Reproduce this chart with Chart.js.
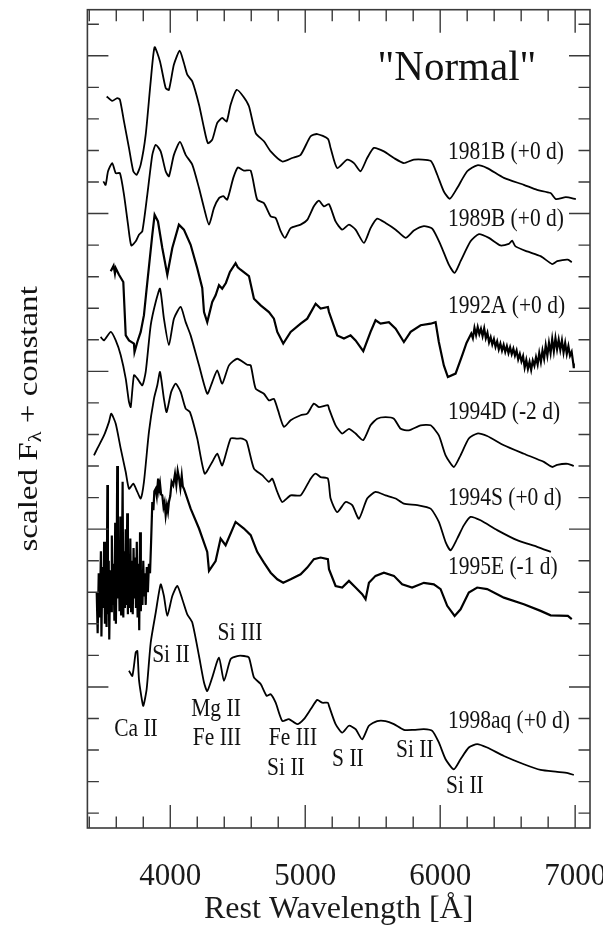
<!DOCTYPE html>
<html>
<head>
<meta charset="utf-8">
<script src="https://cdn.jsdelivr.net/npm/chart.js@4.4.1/dist/chart.umd.min.js"></script>
<style>
html,body{margin:0;padding:0;background:#ffffff;}
#wrap{width:603px;height:930px;position:relative;}
</style>
</head>
<body>
<div id="wrap"><canvas id="c" width="603" height="930"></canvas></div>
<script>
// ---------------- data (rest wavelength [Å], scaled flux + constant) ----------------
const wl_1981B = [3529,3570,3607,3627,3657,3694,3726,3751,3781,3818,3855,3884,3924,3966,3990,4027,4070,4101,4126,4163,4213,4250,4279,4311,4348,4385,4418,4447,4492,4541,4583,4633,4694,4744,4830,4904,4966,5040,5089,5168,5188,5237,5311,5361,5410,5459,5509,5583,5657,5731,5805,5929,5978,6027,6072,6126,6200,6274,6348,6472,6620,6718,6818,6857,6931,7005];
const fx_1981B = [23.71,23.57,23.66,23.61,22.92,22.08,21.34,21.23,21.55,22.50,24.19,25.27,24.82,23.98,23.92,24.72,25.16,24.77,24.40,24.19,23.45,22.71,22.23,22.34,22.87,23.03,22.92,23.45,23.92,23.71,23.40,22.55,22.29,21.97,21.65,21.76,21.86,22.45,22.52,22.37,22.08,21.44,21.71,21.60,21.34,21.76,22.08,21.97,21.76,21.60,21.71,21.67,21.23,20.70,20.47,20.81,21.34,21.53,21.44,21.13,20.91,20.75,20.65,20.46,20.52,20.46];

const wl_1989B = [3504,3521,3539,3570,3596,3627,3657,3687,3711,3744,3768,3793,3830,3867,3892,3929,3966,3990,4027,4072,4114,4163,4213,4250,4287,4324,4361,4393,4422,4467,4501,4546,4596,4644,4694,4744,4781,4818,4850,4892,4966,5015,5064,5101,5138,5176,5225,5274,5324,5373,5435,5484,5533,5595,5670,5744,5805,5879,5941,6003,6064,6107,6151,6225,6287,6361,6447,6509,6533,6558,6644,6744,6830,6867,6946,6975];
const fx_1989B = [21.02,20.91,21.34,21.60,21.28,21.28,20.60,19.65,18.99,19.12,19.33,19.44,20.60,21.86,22.18,21.97,21.34,21.18,21.86,22.27,21.86,21.55,20.81,20.18,19.65,20.18,20.49,20.55,20.44,21.13,21.46,21.36,21.36,20.44,20.33,19.91,19.86,19.44,19.23,19.54,19.65,19.80,20.23,20.41,20.23,20.30,19.75,19.49,19.65,19.49,19.07,19.54,19.84,19.70,19.49,19.23,19.46,19.60,19.52,19.01,18.38,18.12,18.49,19.12,19.35,19.23,18.99,19.04,19.14,18.96,18.80,18.65,18.40,18.49,18.54,18.46];

const pts_1992A = [
 [3559,18.17],[3580,18.35],[3590,18.10],[3596,18.27],[3620,18.06],[3652,17.83],[3670,16.14],[3694,15.98],[3731,15.88],[3735,15.61],
 [3756,15.93],[3781,16.25],[3805,16.78],[3825,17.62],[3867,19.33],[3884,19.96],[3909,19.75],[3941,18.91],[3978,18.06],[4015,18.91],
 [4064,19.65],[4101,19.49],[4151,19.01],[4200,18.27],[4237,17.64],[4250,16.88],[4274,16.56],[4311,17.20],[4336,17.41],[4361,17.73],
 [4385,17.62],[4412,17.80],[4442,18.15],[4484,18.43],[4500,18.30],[4521,18.22],[4583,18.02],[4620,17.30],[4670,17.09],[4731,16.88],
 [4768,16.67],[4793,16.25],[4837,15.88],[4892,16.25],[4966,16.51],[5015,16.67],[5077,17.14],[5114,16.99],[5168,17.04],[5176,16.88],
 [5237,16.14],[5287,16.04],[5336,16.14],[5373,15.98],[5430,15.64],[5484,16.25],[5521,16.62],[5558,16.51],[5620,16.56],[5670,16.35],
 [5731,15.93],[5781,16.25],[5855,16.46],[5929,16.51],[5966,16.56],[5990,15.93],[6027,15.19],[6057,14.82],[6114,14.93],[6163,15.51],
 [6195,15.90],[6230,16.20],[6242,16.05],[6254,16.38],[6266,16.15],[6278,16.40],[6290,16.18],[6302,16.35],[6314,16.12],[6326,16.36],
 [6338,16.05],[6350,16.22],[6362,15.92],[6374,16.08],[6386,15.85],[6398,16.02],[6410,15.78],[6422,15.95],[6434,15.70],[6446,15.88],
 [6458,15.66],[6470,15.84],[6482,15.62],[6494,15.80],[6506,15.58],[6518,15.76],[6530,15.55],[6542,15.72],[6554,15.50],[6566,15.66],
 [6578,15.38],[6590,15.55],[6602,15.32],[6614,15.48],[6626,15.12],[6638,15.36],[6650,15.08],[6662,15.30],[6674,15.05],[6686,15.34],
 [6698,15.18],[6710,15.45],[6722,15.22],[6734,15.58],[6746,15.30],[6758,15.66],[6770,15.40],[6782,15.82],[6794,15.50],[6806,15.90],
 [6818,15.58],[6830,16.02],[6842,15.64],[6854,16.05],[6866,15.70],[6878,16.00],[6890,15.68],[6902,15.98],[6914,15.60],[6926,15.90],
 [6938,15.55],[6950,15.80],[6962,15.50],[6974,15.62],[6986,15.25],[6990,15.10]
];

const wl_1994D = [3484,3509,3559,3596,3633,3670,3694,3707,3731,3756,3793,3818,3855,3892,3924,3953,3990,4027,4077,4114,4151,4213,4274,4311,4348,4385,4435,4496,4570,4596,4633,4694,4731,4768,4798,4842,4892,4966,5015,5064,5101,5168,5176,5225,5274,5324,5373,5430,5484,5533,5595,5657,5707,5768,5855,5929,5990,6040,6101,6151,6212,6274,6348,6472,6620,6768,6830,6867,6946,6990];
const fx_1994D = [16.09,15.98,16.25,15.98,15.51,14.77,14.03,13.87,14.88,14.77,14.56,14.98,16.46,17.20,17.62,16.67,15.83,16.67,17.04,16.56,16.14,15.19,14.29,14.66,15.03,14.61,15.19,15.40,15.21,15.19,14.45,14.29,14.08,14.13,13.77,13.24,13.45,13.61,13.66,13.98,13.87,13.93,13.82,13.29,13.03,13.18,13.03,12.82,13.29,13.50,13.55,13.50,13.18,13.13,13.29,13.29,12.97,12.34,11.97,12.34,12.87,13.03,12.95,12.66,12.39,12.13,11.97,12.04,12.07,12.00];

const wl_1994S = [3435,3459,3509,3546,3563,3596,3633,3670,3694,3726,3756,3781,3805,3842,3879,3904,3924,3953,3973,4007,4040,4077,4114,4146,4200,4255,4311,4348,4385,4447,4492,4533,4566,4620,4681,4731,4756,4793,4830,4892,4966,5040,5077,5114,5168,5188,5237,5299,5348,5398,5459,5521,5595,5670,5731,5830,5929,5990,6040,6077,6126,6175,6225,6299,6422,6570,6718,6820];
const fx_1994S = [12.34,12.55,12.97,13.40,13.66,13.34,12.55,11.81,11.28,11.44,11.18,10.97,11.50,13.08,14.13,14.56,14.98,14.13,13.71,14.35,14.61,14.35,13.82,13.71,12.87,11.76,12.13,12.39,12.02,12.87,12.87,12.87,12.78,11.92,11.71,11.50,11.60,11.18,10.86,11.07,11.07,11.60,11.76,11.65,11.60,10.97,10.54,10.86,10.76,10.33,10.97,11.18,11.07,10.97,10.81,10.76,10.65,10.23,9.59,9.33,9.70,10.12,10.39,10.28,9.97,9.65,9.44,9.28];

const pts_1995E = [
 [3455,8.0],[3462,6.7],[3470,8.6],[3478,7.2],[3486,9.3],[3490,6.6],[3497,8.8],[3504,7.5],[3510,9.6],[3516,7.0],
 [3522,8.5],[3528,6.9],[3534,11.4],[3538,7.3],[3544,9.0],[3548,6.5],[3555,8.7],[3561,7.4],[3567,9.8],[3573,7.6],
 [3580,8.9],[3586,7.1],[3592,10.2],[3597,7.0],[3603,9.1],[3607,12.0],[3612,7.8],[3618,9.5],[3624,7.4],[3630,10.4],
 [3636,7.3],[3642,9.0],[3647,11.5],[3652,7.2],[3658,9.3],[3664,7.5],[3670,10.0],[3676,7.6],[3681,10.5],[3686,7.3],
 [3692,9.2],[3698,7.5],[3704,9.7],[3710,7.4],[3716,9.0],[3722,7.3],[3728,9.4],[3734,7.8],[3740,9.1],[3746,7.5],
 [3752,9.6],[3758,7.2],[3764,8.9],[3770,6.8],[3776,9.9],[3782,7.4],[3788,8.7],[3794,7.6],[3800,9.0],[3806,7.9],
 [3812,8.6],[3818,7.6],[3826,8.8],[3834,8.0],[3842,8.9],[3850,8.6],[3858,9.6],
 [3867,10.86],[3875,10.60],[3882,11.20],[3892,11.28],[3900,11.05],[3910,11.60],[3917,11.25],[3924,11.44],[3932,11.10],[3941,11.07],
 [3950,10.70],[3958,10.85],[3966,10.44],[3975,10.75],[3983,10.55],[3990,10.86],[4000,11.05],[4010,11.50],[4022,11.39],[4035,11.75],
 [4045,11.40],[4055,11.85],[4064,11.65],[4075,11.30],[4085,11.70],[4093,11.35],[4101,11.28],[4151,10.65],[4213,10.02],[4274,9.28],
 [4287,8.68],[4336,8.99],[4373,9.70],[4410,9.49],[4484,10.23],[4546,10.02],[4596,9.81],[4644,9.28],[4694,8.94],[4744,8.62],
 [4793,8.41],[4837,8.30],[4892,8.41],[4966,8.57],[5015,8.78],[5064,9.05],[5114,9.10],[5168,9.05],[5176,8.73],[5225,8.20],
 [5274,8.15],[5324,8.36],[5373,8.15],[5422,7.94],[5447,7.78],[5472,8.30],[5521,8.52],[5583,8.62],[5657,8.52],[5718,8.25],
 [5792,8.15],[5879,8.30],[5953,8.25],[6003,8.10],[6052,7.57],[6107,7.25],[6151,7.46],[6212,7.99],[6274,8.15],[6348,8.10],
 [6472,7.83],[6620,7.62],[6744,7.41],[6818,7.27],[6946,7.25],[6975,7.15]
];

const wl_1998aq = [3694,3719,3744,3756,3768,3785,3800,3825,3855,3892,3929,3953,3978,4015,4052,4089,4126,4163,4213,4250,4274,4311,4361,4398,4447,4496,4546,4583,4620,4670,4714,4744,4781,4830,4879,4941,4990,5040,5089,5126,5168,5176,5225,5274,5324,5373,5422,5472,5533,5595,5657,5731,5805,5879,5941,5990,6040,6101,6151,6212,6274,6348,6472,6620,6744,6867,6946,6990];
const fx_1998aq = [5.51,5.35,6.09,6.14,5.24,4.72,4.40,4.93,6.40,7.35,8.25,7.88,7.25,7.88,8.20,7.78,7.30,7.04,5.98,5.14,4.87,5.30,5.93,5.19,5.88,5.98,5.98,5.93,5.30,5.09,4.72,4.77,4.50,3.92,3.98,3.82,3.98,4.29,4.59,4.50,4.50,4.40,3.82,3.55,3.77,3.66,3.34,3.77,3.92,3.92,3.82,3.64,3.64,3.66,3.61,3.24,2.71,2.39,2.71,3.08,3.19,3.08,2.81,2.55,2.37,2.31,2.27,2.21];

// axis ticks and labels
const xTickValues = [3400,3600,3800,4000,4200,4400,4600,4800,5000,5200,5400,5600,5800,6000,6200,6400,6600,6800,7000];
const xLabelValues = [4000,5000,6000,7000];
const yTickValues = [1,2,3,4,5,6,7,8,9,10,11,12,13,14,15,16,17,18,19,20,21,22,23,24,25,26];

// text annotations
const spectrumNames = ['1981B (+0 d)','1989B (+0 d)','1992A (+0 d)','1994D (-2 d)','1994S (+0 d)','1995E (-1 d)','1998aq (+0 d)'];
const lineIdNames = ['Ca II','Si II','Si III','Mg II','Fe III','Fe III','Si II','S II','Si II','Si II'];

// ---------------- layout / annotation anchors (data coordinates) ----------------
const nameAnchors = [[6057,21.92],[6057,19.80],[6057,17.04],[6057,13.68],[6057,10.96],[6057,8.80],[6057,3.89]];
const lineIdAnchors = [[3746,3.64],[4005,6.01],[4516,6.68],[4339,4.27],[4346,3.35],[4909,3.35],[4857,2.43],[5316,2.69],[5812,3.00],[6183,1.86]];
const titleAnchor = [6124,24.58];

const FONT = '"Liberation Serif", "Times New Roman", "DejaVu Serif", serif';

function zip(w, f){ return w.map((v,i)=>({x:v, y:f[i]})); }
function fromPairs(p){ return p.map(q=>({x:q[0], y:q[1]})); }

const series = [
  {name:'1981B', data: zip(wl_1981B, fx_1981B), noisy:false},
  {name:'1989B', data: zip(wl_1989B, fx_1989B), noisy:false},
  {name:'1992A', data: fromPairs(pts_1992A), noisy:true},
  {name:'1994D', data: zip(wl_1994D, fx_1994D), noisy:false},
  {name:'1994S', data: zip(wl_1994S, fx_1994S), noisy:false},
  {name:'1995E', data: fromPairs(pts_1995E), noisy:true},
  {name:'1998aq', data: zip(wl_1998aq, fx_1998aq), noisy:false}
];

function drawStretched(ctx, str, px, py, size, align, sy){
  ctx.save();
  ctx.translate(px, py);
  ctx.scale(1, sy);
  ctx.font = size + 'px ' + FONT;
  ctx.textAlign = align;
  ctx.textBaseline = 'middle';
  ctx.fillStyle = '#111';
  ctx.fillText(str, 0, 0);
  ctx.restore();
}

const framePlugin = {
  id: 'frameAndText',
  afterDraw(chart){
    const {ctx, chartArea: a, scales: {x, y}} = chart;
    ctx.save();
    // frame
    ctx.strokeStyle = '#3a3a3a';
    ctx.lineWidth = 1.6;
    ctx.strokeRect(a.left, a.top, a.right - a.left, a.bottom - a.top);
    // inward ticks on all four sides
    ctx.lineWidth = 1.4;
    ctx.beginPath();
    xTickValues.forEach(v => {
      const p = x.getPixelForValue(v);
      const L = xLabelValues.includes(v) ? 23 : 11.5;
      ctx.moveTo(p, a.bottom); ctx.lineTo(p, a.bottom - L);
      ctx.moveTo(p, a.top); ctx.lineTo(p, a.top + L);
    });
    yTickValues.forEach(v => {
      const p = y.getPixelForValue(v);
      const L = (v % 5 === 0) ? 21 : 11.5;
      ctx.moveTo(a.left, p); ctx.lineTo(a.left + L, p);
      ctx.moveTo(a.right, p); ctx.lineTo(a.right - L, p);
    });
    ctx.stroke();

    // title
    drawStretched(ctx, '"Normal"', x.getPixelForValue(titleAnchor[0]), y.getPixelForValue(titleAnchor[1]), 41, 'center', 1.05);
    // spectrum names
    spectrumNames.forEach((s, i) => {
      drawStretched(ctx, s, x.getPixelForValue(nameAnchors[i][0]), y.getPixelForValue(nameAnchors[i][1]), 21.5, 'left', 1.15);
    });
    // line identifications
    lineIdNames.forEach((s, i) => {
      drawStretched(ctx, s, x.getPixelForValue(lineIdAnchors[i][0]), y.getPixelForValue(lineIdAnchors[i][1]), 21.5, 'center', 1.15);
    });

    // y-axis title with subscript lambda, rotated
    ctx.save();
    ctx.translate(30, (a.top + a.bottom) / 2);
    ctx.rotate(-Math.PI / 2);
    ctx.scale(1.18, 1);
    const big = '28px ' + FONT, small = '19px ' + FONT;
    ctx.font = big;
    const w1 = ctx.measureText('scaled F').width;
    const w3 = ctx.measureText(' + constant').width;
    ctx.font = small;
    const w2 = ctx.measureText('\u03bb').width;
    const W = w1 + w2 + w3;
    const sx = -W / 2;
    ctx.textBaseline = 'middle';
    ctx.textAlign = 'left';
    ctx.fillStyle = '#111';
    ctx.font = big; ctx.fillText('scaled F', sx, 0);
    ctx.font = small; ctx.fillText('\u03bb', sx + w1, 6);
    ctx.font = big; ctx.fillText(' + constant', sx + w1 + w2, 0);
    ctx.restore();

    ctx.restore();
  }
};

const datasets = series.map(s => ({
  label: s.name,
  data: s.data,
  borderColor: '#000',
  borderWidth: s.noisy ? 2.2 : 1.8,
  pointRadius: 0,
  tension: s.noisy ? 0 : 0.2,
  fill: false
}));

new Chart(document.getElementById('c'), {
  type: 'line',
  data: { datasets },
  options: {
    responsive: false,
    animation: false,
    devicePixelRatio: 1,
    events: [],
    layout: { padding: { left: 0, right: 13, top: 9.7, bottom: 0 } },
    plugins: { legend: { display: false }, tooltip: { enabled: false } },
    scales: {
      x: {
        type: 'linear',
        min: 3386, max: 7110,
        grid: { display: false, drawTicks: false },
        border: { display: false },
        afterBuildTicks: s => { s.ticks = xLabelValues.map(v => ({ value: v })); },
        afterFit: s => { s.height = 102; s.paddingLeft = 0; s.paddingRight = 0; },
        ticks: {
          autoSkip: false, maxRotation: 0, minRotation: 0,
          padding: 30,
          color: '#1a1a1a',
          font: { family: FONT, size: 31 },
          callback: v => String(v)
        },
        title: {
          display: true,
          text: 'Rest Wavelength [Å]',
          color: '#1a1a1a',
          font: { family: FONT, size: 32 },
          padding: { top: 0, bottom: 1 }
        }
      },
      y: {
        type: 'linear',
        min: 0.53, max: 26.46,
        grid: { display: false, drawTicks: false },
        border: { display: false },
        ticks: { display: false },
        afterFit: s => { s.width = 87.4; s.paddingTop = 0; s.paddingBottom = 0; }
      }
    }
  },
  plugins: [framePlugin]
});
</script>
</body>
</html>
